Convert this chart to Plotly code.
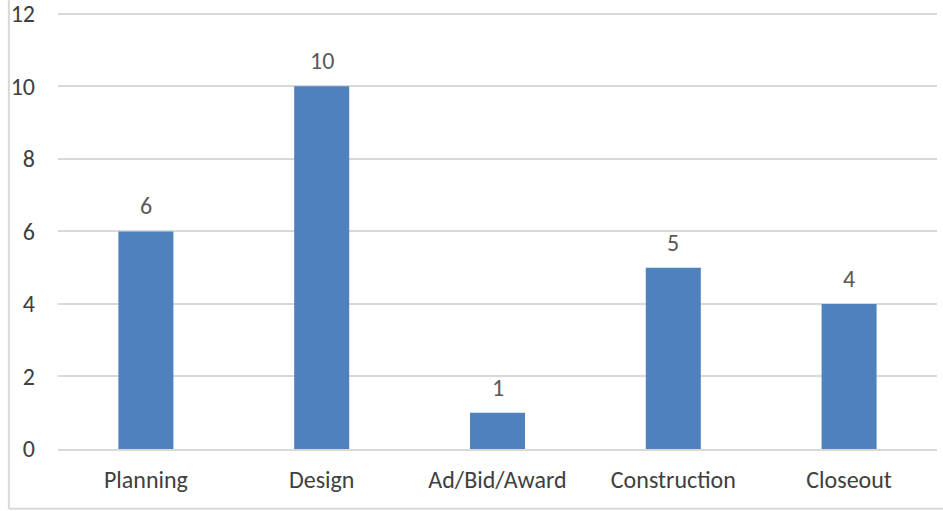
import plotly.graph_objects as go

categories = ["Planning", "Design", "Ad/Bid/Award", "Construction", "Closeout"]
values = [6, 10, 1, 5, 4]
y_ticks = [0, 2, 4, 6, 8, 10, 12]

bar_color = "#4F81BD"
label_color = "#595959"
tick_color = "#404040"
font_family = "Carlito, Calibri, 'Liberation Sans', Arial, sans-serif"

fig = go.Figure(go.Bar(x=categories, y=values, marker=dict(color=bar_color, line=dict(width=0)),
                       hoverinfo="x+y"))

for c, v in zip(categories, values):
    fig.add_annotation(x=c, y=v, text=str(v), showarrow=False, yanchor="bottom", yshift=9,
                       font=dict(size=24, color=label_color, family=font_family))

fig.update_layout(
    width=943, height=511,
    margin=dict(l=58, r=6, t=12, b=62),
    paper_bgcolor="white", plot_bgcolor="white",
    bargap=0.687,
    showlegend=False,
    font=dict(family=font_family, size=24, color=tick_color),
    xaxis=dict(showgrid=False, showline=True, linecolor="#D9D9D9", linewidth=2, automargin=False,
               ticks="", tickfont=dict(size=24, color=tick_color), ticklabelstandoff=8),
    yaxis=dict(range=[0, 12.05], tickvals=y_ticks, showgrid=True, gridcolor="#D9D9D9", gridwidth=2,
               zeroline=False, showline=False, ticks="", ticklabeloverflow="allow", automargin=False,
               tickfont=dict(size=24, color=tick_color), ticklabelstandoff=22),
)

# outer chart border (visible left and bottom edges)
fig.add_shape(type="line", xref="paper", yref="paper", x0=-0.0559, x1=-0.0559, y0=-0.137, y1=1.05,
              line=dict(color="#D9D9D9", width=2))
fig.add_shape(type="line", xref="paper", yref="paper", x0=-0.0559, x1=1.01, y0=-0.137, y1=-0.137,
              line=dict(color="#D9D9D9", width=2))

fig.write_html("out.html", config={"displayModeBar": False},
               post_script="document.body.style.margin='0';")
